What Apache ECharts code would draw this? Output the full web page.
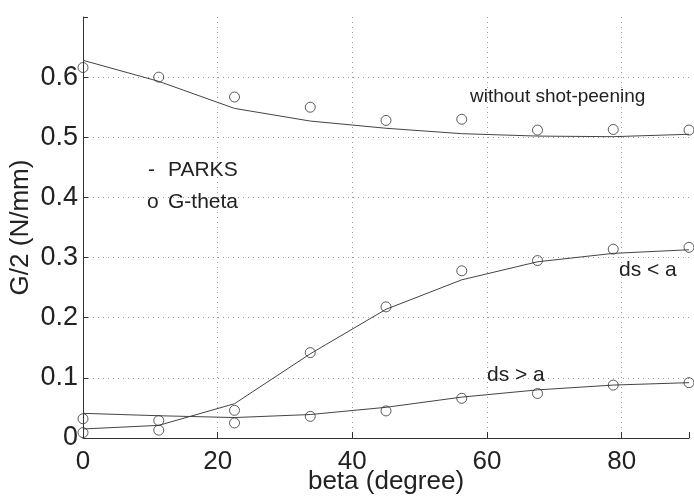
<!DOCTYPE html>
<html><head><meta charset="utf-8">
<script src="https://cdn.jsdelivr.net/npm/echarts@6/dist/echarts.min.js"></script>
<style>html,body{margin:0;padding:0;background:#fff}#c{width:694px;height:500px}</style>
</head><body><div id="c"></div>
<script>
// beta (degree) sample positions
const beta = [0, 11.25, 22.5, 33.75, 45, 56.25, 67.5, 78.75, 90];
// without shot-peening
const noPeenParks  = [0.628, 0.593, 0.548, 0.527, 0.515, 0.506, 0.502, 0.501, 0.505];
const noPeenGtheta = [0.616, 0.600, 0.567, 0.550, 0.528, 0.530, 0.512, 0.513, 0.512];
// ds < a
const ltParks  = [0.015, 0.021, 0.057, 0.140, 0.214, 0.263, 0.293, 0.307, 0.313];
const ltGtheta = [0.009, 0.013, 0.046, 0.142, 0.218, 0.278, 0.295, 0.314, 0.317];
// ds > a
const gtParks  = [0.041, 0.037, 0.034, 0.039, 0.051, 0.068, 0.080, 0.088, 0.092];
const gtGtheta = [0.032, 0.029, 0.025, 0.036, 0.045, 0.066, 0.074, 0.088, 0.092];
const xTicks = [0, 20, 40, 60, 80];

const pairs = arr => beta.map((b, i) => [b, arr[i]]);
const FONT = '"Liberation Sans", Arial, Helvetica, sans-serif';
const INK = '#222';

function lineS(arr) {
  return { type: 'line', data: pairs(arr), showSymbol: false, symbol: 'none',
    lineStyle: { color: '#444', width: 1 }, silent: true, z: 2 };
}
function dotS(arr) {
  return { type: 'scatter', data: pairs(arr), symbol: 'circle', symbolSize: 10,
    itemStyle: { color: 'rgba(0,0,0,0)', borderColor: '#333', borderWidth: 1 }, silent: true, z: 3 };
}
function txt(x, y, s, size) {
  return { type: 'text', x: x, y: y, style: { text: s, fontFamily: FONT, fontSize: size,
    fill: INK, align: 'left', verticalAlign: 'middle' }, z: 10 };
}

const chart = echarts.init(document.getElementById('c'), null, { renderer: 'canvas' });
chart.setOption({
  animation: false,
  backgroundColor: '#fff',
  grid: { left: 83, right: 5, top: 17, bottom: 62, containLabel: false, outerBoundsMode: 'none' },
  xAxis: {
    type: 'value', min: 0, max: 90, interval: 20,
    name: 'beta (degree)', nameLocation: 'middle', nameGap: 31, nameMoveOverlap: false,
    nameTextStyle: { fontFamily: FONT, fontSize: 26, color: INK },
    axisLine: { show: true, lineStyle: { color: '#333', width: 1 } },
    axisTick: { show: true, inside: true, length: 6, lineStyle: { color: '#333' } },
    axisLabel: { fontFamily: FONT, fontSize: 26, color: INK, margin: 11,
      formatter: v => xTicks.indexOf(v) >= 0 ? String(v) : '' },
    splitLine: { show: true, showMinLine: false, showMaxLine: false,
      lineStyle: { type: [1, 4], color: '#999', width: 1 } }
  },
  yAxis: {
    type: 'value', min: 0, max: 0.7, interval: 0.1,
    name: 'G/2 (N/mm)', nameLocation: 'middle', nameGap: 49, nameMoveOverlap: false,
    nameTextStyle: { fontFamily: FONT, fontSize: 26, color: INK },
    axisLine: { show: true, lineStyle: { color: '#333', width: 1 } },
    axisTick: { show: true, inside: true, length: 5, lineStyle: { color: '#333' } },
    axisLabel: { fontFamily: FONT, fontSize: 27, color: INK, margin: 5,
      formatter: v => v === 0 ? '0' : (v > 0.65 ? '' : v.toFixed(1)) },
    splitLine: { show: true, showMinLine: false, showMaxLine: false,
      lineStyle: { type: [1, 4], color: '#999', width: 1 } }
  },
  series: [
    lineS(noPeenParks), dotS(noPeenGtheta),
    lineS(ltParks), dotS(ltGtheta),
    lineS(gtParks), dotS(gtGtheta)
  ],
  graphic: [
    txt(470, 97, 'without shot-peening', 19),
    txt(619, 270, 'ds < a', 21),
    txt(487, 375, 'ds > a', 21),
    txt(148, 170, '-', 21),
    txt(168, 170, 'PARKS', 21),
    txt(147, 202, 'o', 21),
    txt(168, 202, 'G-theta', 21)
  ]
});
</script></body></html>
